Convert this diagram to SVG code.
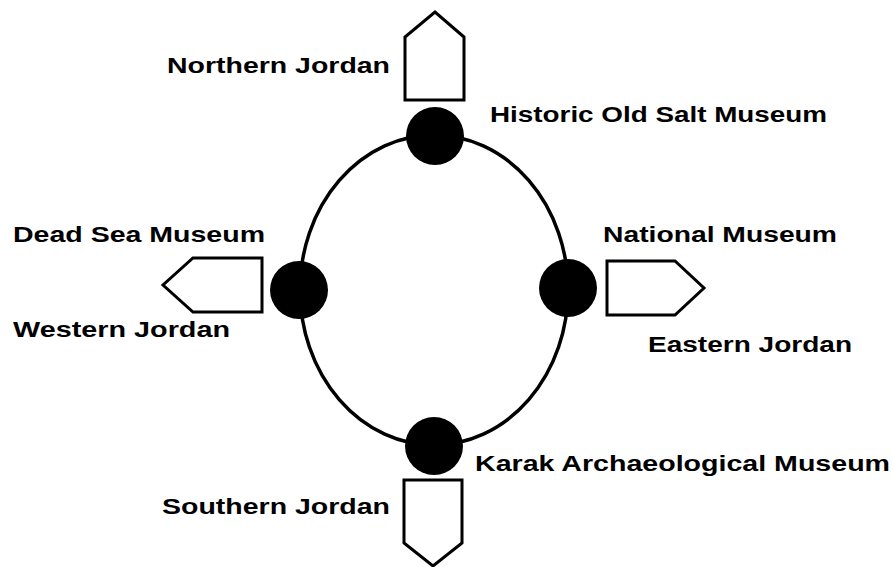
<svg xmlns="http://www.w3.org/2000/svg" width="893" height="567" viewBox="0 0 893 567">
<style>
.ring{fill:none;stroke:#000;stroke-width:3.5}
.dot{fill:#000}
.arrow{fill:#fff;stroke:#000;stroke-width:3;stroke-linejoin:miter}
.lbl{font-family:"Liberation Sans",Arial,sans-serif;font-weight:bold;font-size:22px;fill:#000}
</style>
<rect width="893" height="567" fill="#fff"/>
<g id="connectors">
<ellipse class="ring" cx="434" cy="290" rx="134" ry="155"/>
</g>
<g id="north">
<polygon class="arrow" points="405,100 405,37 435,12 464,37 464,100"/>
<text class="lbl" x="167" y="73" textLength="223" lengthAdjust="spacingAndGlyphs">Northern Jordan</text>
</g>
<g id="salt">
<circle class="dot" cx="435" cy="136" r="29"/>
<text class="lbl" x="490" y="122" textLength="337" lengthAdjust="spacingAndGlyphs">Historic Old Salt Museum</text>
</g>
<g id="west">
<polygon class="arrow" points="262,258 193,258 163,285 193,312 262,312"/>
<text class="lbl" x="13" y="337" textLength="217" lengthAdjust="spacingAndGlyphs">Western Jordan</text>
</g>
<g id="deadsea">
<circle class="dot" cx="299" cy="290" r="29"/>
<text class="lbl" x="13" y="242" textLength="252" lengthAdjust="spacingAndGlyphs">Dead Sea Museum</text>
</g>
<g id="east">
<polygon class="arrow" points="607,261 675,261 704,288 675,315 607,315"/>
<text class="lbl" x="648" y="352" textLength="204" lengthAdjust="spacingAndGlyphs">Eastern Jordan</text>
</g>
<g id="national">
<circle class="dot" cx="568" cy="288" r="29"/>
<text class="lbl" x="603" y="242" textLength="234" lengthAdjust="spacingAndGlyphs">National Museum</text>
</g>
<g id="south">
<polygon class="arrow" points="404,480 462,480 462,543 433,566 404,543"/>
<text class="lbl" x="162" y="514" textLength="228" lengthAdjust="spacingAndGlyphs">Southern Jordan</text>
</g>
<g id="karak">
<circle class="dot" cx="434" cy="446" r="29"/>
<text class="lbl" x="475" y="471" textLength="415" lengthAdjust="spacingAndGlyphs">Karak Archaeological Museum</text>
</g>
</svg>
